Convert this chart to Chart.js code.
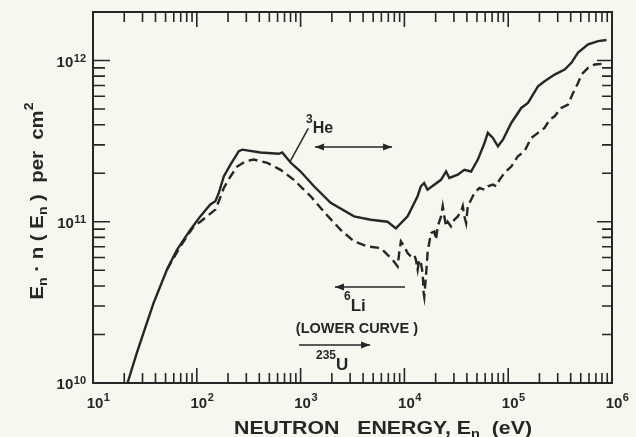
<!DOCTYPE html>
<html><head><meta charset="utf-8">
<script src="https://cdn.jsdelivr.net/npm/chart.js@4"></script>
<style>html,body{margin:0;padding:0;background:#f7f6ef;}#wrap{width:636px;height:437px;}</style>
</head><body><div id="wrap"><canvas id="c" width="636" height="437"></canvas></div>
<script>
// ---- data ----
const solidE = [21.5,26.4,30.6,38.3,51.5,64.4,86.5,108,135,151,163,182,211,254,274,411,617,665,800,1000,1345,1950,3270,4740,6880,8280,10740,13400,14400,15500,16700,22500,25200,27100,32700,37800,43900,51000,59100,63600,71200,79600,89000,107000,133600,155000,193600,224000,280000,350000,406000,471000,589000,736000,885000];
const solidY = [1e10,1.53e10,2.04e10,3.13e10,5.04e10,6.7e10,8.9e10,1.08e11,1.28e11,1.34e11,1.51e11,1.91e11,2.26e11,2.74e11,2.80e11,2.69e11,2.64e11,2.69e11,2.33e11,2.05e11,1.66e11,1.31e11,1.08e11,1.03e11,1.0e11,9.1e10,1.08e11,1.44e11,1.66e11,1.74e11,1.58e11,1.82e11,2.05e11,1.87e11,1.96e11,2.1e11,2.05e11,2.43e11,3.08e11,3.56e11,3.31e11,2.94e11,3.23e11,4.1e11,5.08e11,5.46e11,6.92e11,7.43e11,8.18e11,8.79e11,9.68e11,1.12e12,1.26e12,1.32e12,1.34e12];
const dashE = [51.5,69.3,93.1,108,130,151,163,182,211,245,294,354,477,641,861,1250,1746,2432,3270,4410,5930,6880,7690,8600,8910,9250,9950,10740,11560,12450,12920,13420,13900,14430,14990,15330,15530,16130,16750,18030,19420,20150,20930,22530,23400,24250,25200,26150,28100,30300,32700,35100,36500,37800,39300,40800,43900,47300,52800,59100,63600,71200,76600,82400,92100,107000,124000,143700,166700,193600,224000,251000,280000,325000,377000,422000,471000,507000,589000,682000,792000];
const dashY = [5.04e10,7.03e10,9.35e10,1.0e11,1.10e11,1.19e11,1.34e11,1.62e11,1.91e11,2.20e11,2.37e11,2.43e11,2.32e11,2.10e11,1.82e11,1.44e11,1.12e11,8.91e10,7.55e10,7.03e10,6.87e10,6.24e10,5.81e10,5.28e10,6.40e10,7.55e10,7.03e10,6.40e10,6.09e10,6.24e10,5.81e10,5.04e10,5.81e10,5.54e10,4.80e10,3.61e10,3.43e10,4.57e10,6.52e10,8.51e10,8.71e10,7.73e10,9.35e10,1.08e11,1.25e11,1.08e11,9.35e10,1.0e11,9.35e10,1.03e11,1.08e11,1.16e11,1.25e11,1.08e11,9.82e10,1.25e11,1.37e11,1.51e11,1.62e11,1.58e11,1.66e11,1.70e11,1.66e11,1.82e11,2.01e11,2.20e11,2.55e11,2.74e11,3.31e11,3.56e11,3.82e11,4.30e11,4.51e11,5.08e11,5.33e11,6.30e11,7.26e11,8.18e11,9.01e11,9.45e11,9.54e11];
const xTickValues = [1e1,1e2,1e3,1e4,1e5,1e6];
const xTickLabels = ['10^1','10^2','10^3','10^4','10^5','10^6'];
const yTickValues = [1e10,1e11,1e12];
const yTickLabels = ['10^10','10^11','10^12'];
const xRange = [10,1e6];
const yRange = [1e10,2e12];

const INK = '#262626';
const FONT = 'Liberation Sans, Arial, sans-serif';
const f = (s) => 'bold ' + s + 'px ' + FONT;

// annotations in data coordinates
const arrows = [
  {from:[1377,2.91e11], to:[7603,2.91e11], both:true},
  {from:[10140,3.94e10], to:[2143,3.94e10], both:false},
  {from:[966,1.72e10], to:[4670,1.72e10], both:false}
];
const leader = {from:[791,2.36e11], to:[1186,3.80e11]};
const texts = [
  {at:[1128,3.56e11], align:'left', parts:[['3',12,-10],['He',16,0]]},
  {at:[2618,2.80e10], align:'left', parts:[['6',12,-11],['Li',17,0]]},
  {at:[3490,2.04e10], align:'center', parts:[['(LOWER CURVE )',14.5,0]]},
  {at:[1406,1.205e10], align:'left', parts:[['235',12,-11],['U',17,0]]}
];

function rich(ctx, parts, x, y, align, targetW){
  let w = 0;
  parts.forEach(p => { ctx.font = f(p[1]); p.w = ctx.measureText(p[0]).width; w += p.w; });
  const sx = targetW ? targetW / w : 1;
  const tw = w * sx;
  let x0 = align === 'center' ? x - tw/2 : align === 'right' ? x - tw : x;
  ctx.save();
  ctx.translate(x0, y); ctx.scale(sx, 1);
  ctx.textAlign = 'left'; ctx.textBaseline = 'alphabetic';
  let cx = 0;
  parts.forEach(p => { ctx.font = f(p[1]); ctx.fillText(p[0], cx, p[2] || 0); cx += p.w; });
  ctx.restore();
}

function arrowHead(ctx, x1, y1, x2, y2){
  const a = Math.atan2(y2-y1, x2-x1), L = 9, W = 3.5;
  ctx.beginPath();
  ctx.moveTo(x2, y2);
  ctx.lineTo(x2 - L*Math.cos(a) + W*Math.sin(a), y2 - L*Math.sin(a) - W*Math.cos(a));
  ctx.lineTo(x2 - L*Math.cos(a) - W*Math.sin(a), y2 - L*Math.sin(a) + W*Math.cos(a));
  ctx.closePath(); ctx.fill();
}

function minorList(min, max){
  const out = [];
  for (let d = Math.floor(Math.log10(min)); d <= Math.ceil(Math.log10(max)); d++){
    for (let m = 1; m < 10; m++){
      const v = m * Math.pow(10, d);
      if (v > min*1.001 && v < max*0.999) out.push({v, major: m === 1});
    }
  }
  return out;
}

const deco = {
  id:'deco',
  beforeDraw(chart){
    const ctx = chart.ctx;
    ctx.save(); ctx.fillStyle = '#f7f6ef'; ctx.fillRect(0,0,chart.width,chart.height); ctx.restore();
  },
  afterDraw(chart){
    const ctx = chart.ctx, a = chart.chartArea;
    const xs = chart.scales.x, ys = chart.scales.y;
    ctx.save();
    ctx.strokeStyle = INK; ctx.fillStyle = INK;
    // frame
    ctx.lineWidth = 2;
    ctx.strokeRect(a.left, a.top, a.right - a.left, a.bottom - a.top);
    // ticks
    ctx.lineWidth = 1.6;
    ctx.beginPath();
    minorList(xRange[0], xRange[1]).forEach(t => {
      const px = xs.getPixelForValue(t.v);
      const lb = t.major ? 15 : 10, lt = t.major ? 15 : 10;
      ctx.moveTo(px, a.bottom); ctx.lineTo(px, a.bottom - lb);
      ctx.moveTo(px, a.top); ctx.lineTo(px, a.top + lt);
    });
    minorList(yRange[0], yRange[1]).forEach(t => {
      const py = ys.getPixelForValue(t.v);
      const ll = t.major ? 17 : 12, lr = t.major ? 15 : 10;
      ctx.moveTo(a.left, py); ctx.lineTo(a.left + ll, py);
      ctx.moveTo(a.right, py); ctx.lineTo(a.right - lr, py);
    });
    ctx.stroke();
    // x tick labels
    xTickValues.forEach((v, i) => {
      const [b, e] = xTickLabels[i].split('^');
      const px = xs.getPixelForValue(v) + 2;
      ctx.font = f(15); const wb = ctx.measureText(b).width;
      ctx.textAlign = 'left'; ctx.textBaseline = 'alphabetic';
      ctx.fillText(b, px - wb/2, 408);
      ctx.font = f(11); ctx.fillText(e, px + wb/2 + 0.5, 401);
    });
    // y tick labels
    yTickValues.forEach((v, i) => {
      const [b, e] = yTickLabels[i].split('^');
      const py = ys.getPixelForValue(v);
      ctx.font = f(11); const we = ctx.measureText(e).width;
      ctx.textAlign = 'left'; ctx.textBaseline = 'alphabetic';
      const xr = a.left - 7;
      ctx.fillText(e, xr - we, py + 1);
      ctx.font = f(15); const wb = ctx.measureText(b).width;
      ctx.fillText(b, xr - we - 0.5 - wb, py + 6);
    });
    // axis titles
    rich(ctx, [['NEUTRON   ENERGY, E',19,0],['n',13,4],['  (eV)',19,0]], 383, 434, 'center', 298);
    ctx.save();
    ctx.translate(43, 201); ctx.rotate(-Math.PI/2);
    rich(ctx, [['E',19,0],['n',13,4],[' · n ( E',19,0],['n',13,4],[' )  per  cm',19,0],['2',13,-10]], 0, 0, 'center', 197);
    ctx.restore();
    // annotations
    ctx.lineWidth = 1.5;
    arrows.forEach(ar => {
      const x1 = xs.getPixelForValue(ar.from[0]), y1 = ys.getPixelForValue(ar.from[1]);
      const x2 = xs.getPixelForValue(ar.to[0]), y2 = ys.getPixelForValue(ar.to[1]);
      ctx.beginPath(); ctx.moveTo(x1, y1); ctx.lineTo(x2, y2); ctx.stroke();
      arrowHead(ctx, x1, y1, x2, y2);
      if (ar.both) arrowHead(ctx, x2, y2, x1, y1);
    });
    ctx.beginPath();
    ctx.moveTo(xs.getPixelForValue(leader.from[0]), ys.getPixelForValue(leader.from[1]));
    ctx.lineTo(xs.getPixelForValue(leader.to[0]), ys.getPixelForValue(leader.to[1]));
    ctx.stroke();
    texts.forEach(t => {
      rich(ctx, t.parts.map(p => p.slice()), xs.getPixelForValue(t.at[0]), ys.getPixelForValue(t.at[1]), t.align);
    });
    ctx.restore();
  }
};

new Chart(document.getElementById('c'), {
  type:'line',
  data:{
    datasets:[
      {label:'3He', data: solidE.map((e,i)=>({x:e, y:solidY[i]})), borderColor:INK, borderWidth:2.4, pointRadius:0, tension:0, fill:false},
      {label:'6Li (lower curve)', data: dashE.map((e,i)=>({x:e, y:dashY[i]})), borderColor:INK, borderWidth:2.4, borderDash:[9,5], pointRadius:0, tension:0, fill:false}
    ]
  },
  options:{
    responsive:false, animation:false, devicePixelRatio:1,
    layout:{padding:{left:0, right:24, top:12, bottom:0}},
    plugins:{legend:{display:false}, tooltip:{enabled:false}},
    scales:{
      x:{type:'logarithmic', min:xRange[0], max:xRange[1], grid:{display:false}, border:{display:false}, ticks:{display:false}, afterFit(s){ s.height = 54; }},
      y:{type:'logarithmic', min:yRange[0], max:yRange[1], grid:{display:false}, border:{display:false}, ticks:{display:false}, afterFit(s){ s.width = 93; }}
    }
  },
  plugins:[deco]
});
</script></body></html>
